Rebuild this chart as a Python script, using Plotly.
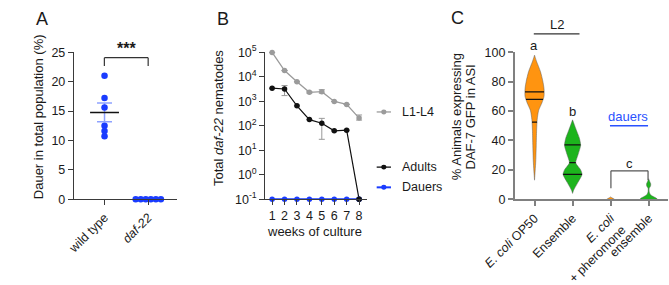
import numpy as np
import plotly.graph_objects as go

W, H = 669, 285
FONT = "Arial, 'Liberation Sans', Helvetica, sans-serif"

# ---------------- Panel A data ----------------
a_groups = ["wild type", "<i>daf-22</i>"]
a_wild_type = [21.0, 17.2, 15.6, 12.5, 11.6, 10.7]
a_daf22 = [0, 0, 0, 0, 0, 0]
a_yticks = [0, 5, 10, 15, 20, 25]

# ---------------- Panel B data ----------------
b_weeks = [1, 2, 3, 4, 5, 6, 7, 8]
b_l1l4 = [98000, 17800, 6200, 2300, 2450, 980, 740, 205]
b_l1l4_err_up = [0, 0, 0, 150, 500, 0, 0, 70]
b_l1l4_err_dn = [0, 0, 0, 150, 310, 0, 0, 35]
b_adults = [3400, 3150, 650, 178, 126, 62, 66, 0]
b_adults_err_up = [0, 1215, 0, 0, 74, 0, 0, 0]
b_adults_err_dn = [0, 1450, 0, 0, 98, 0, 0, 0]
b_dauers = [0, 0, 0, 0, 0, 0, 0, 0]
b_ytick_exp = [-1, 0, 1, 2, 3, 4, 5]

# ---------------- Panel C data ----------------
c_labels = ["<i>E. coli</i> OP50", "Ensemble", "<i>E. coli</i><br>+ pheromone", "ensemble"]
c_colors = ["#FF9410", "#1DB41D", "#FF9410", "#1DB41D"]
# violin outline: value levels (top -> bottom) and relative half-width
c_levels = [
    [98, 94, 86.7, 80.4, 75.2, 70, 65.6, 60.4, 54.2, 46.9, 36.5, 26, 13],
    [54, 47, 41.5, 36.7, 30.4, 24.8, 20, 16.9, 11.7, 6, 4],
    [1.6, 0.8, 0],
    [14, 12, 10.5, 9, 7.5, 5.5, 3.5, 2, 0.8, 0],
]
c_widths = [
    [0, 0.2, 0.63, 0.87, 1.0, 1.0, 0.78, 0.43, 0.28, 0.22, 0.18, 0.13, 0],
    [0, 0.4, 0.72, 0.85, 0.58, 0.33, 0.85, 1.0, 0.58, 0.1, 0],
    [0, 0.2, 0.4],
    [0, 0.12, 0.22, 0.2, 0.06, 0.05, 0.15, 0.45, 0.8, 0.9],
]
c_quartiles = [[52.5, 68, 73], [17, 25, 37], [], []]
c_yticks = [0, 20, 40, 60, 80, 100]


def px(x):
    return x / W


def py(y):
    return 1 - y / H


fig = go.Figure()

# ---------------- Panel A traces ----------------
mean_wt = float(np.mean(a_wild_type))
sem_wt = float(np.std(a_wild_type, ddof=1) / np.sqrt(len(a_wild_type)))
A_UNIT = 46.0  # px per category
DOT_SP = 5.3 / A_UNIT


def swarm(vals, pos):
    xs = []
    vals = list(vals)
    for i, v in enumerate(vals):
        dup = [j for j, u in enumerate(vals) if u == v]
        k = dup.index(i)
        xs.append(pos + (k - (len(dup) - 1) / 2) * DOT_SP)
    return xs


fig.add_trace(go.Scatter(x=[0], y=[mean_wt], mode="markers", marker=dict(size=0.1, color="rgba(0,0,0,0)"),
                         error_y=dict(type="data", array=[sem_wt], color="#8EA2FF", thickness=1.5, width=7.5),
                         xaxis="x", yaxis="y", showlegend=False, hoverinfo="skip"))
fig.add_trace(go.Scatter(x=[-0.33, 0.33], y=[mean_wt, mean_wt], mode="lines",
                         line=dict(color="#111", width=1.5), xaxis="x", yaxis="y", showlegend=False))
fig.add_trace(go.Scatter(x=swarm(a_wild_type, 0) + swarm(a_daf22, 1), y=a_wild_type + a_daf22, mode="markers",
                         marker=dict(size=6.5, color="#1A3CFF"), cliponaxis=False,
                         xaxis="x", yaxis="y", showlegend=False))

# ---------------- Panel B traces ----------------
def floor(v):
    return [max(x, 0.1) for x in v]


fig.add_trace(go.Scatter(x=b_weeks, y=floor(b_l1l4), mode="lines+markers",
                         line=dict(color="#9B9B9B", width=1.3), marker=dict(size=5.5, color="#9B9B9B"),
                         error_y=dict(type="data", array=b_l1l4_err_up, arrayminus=b_l1l4_err_dn,
                                      color="#9B9B9B", thickness=1, width=3),
                         cliponaxis=False, xaxis="x2", yaxis="y2", showlegend=False))
fig.add_trace(go.Scatter(x=b_weeks, y=floor(b_adults), mode="lines+markers",
                         line=dict(color="#111", width=1.2), marker=dict(size=5.5, color="#111"),
                         error_y=dict(type="data", array=b_adults_err_up, arrayminus=b_adults_err_dn,
                                      color="#999", thickness=1, width=3),
                         cliponaxis=False, xaxis="x2", yaxis="y2", showlegend=False))
fig.add_trace(go.Scatter(x=b_weeks, y=floor(b_dauers), mode="lines+markers",
                         line=dict(color="#1A3CFF", width=2.2), marker=dict(size=5.5, color="#1A3CFF"),
                         cliponaxis=False, xaxis="x2", yaxis="y2", showlegend=False))
# re-draw last adult point above dauers line
fig.add_trace(go.Scatter(x=[b_weeks[-1]], y=floor([b_adults[-1]]), mode="markers",
                         marker=dict(size=5.5, color="#111"), cliponaxis=False,
                         xaxis="x2", yaxis="y2", showlegend=False))

# ---------------- Panel C traces ----------------
HW = 0.25
for i, (lv, wd, col) in enumerate(zip(c_levels, c_widths, c_colors)):
    lv = np.array(lv, float)
    wd = np.array(wd, float)
    xs = list(i + wd * HW) + list(i - wd[::-1] * HW) + [i + wd[0] * HW]
    ys = list(lv) + list(lv[::-1]) + [lv[0]]
    fig.add_trace(go.Scatter(x=xs, y=ys, mode="lines", fill="toself", fillcolor=col,
                             line=dict(color="rgba(90,90,90,0.8)", width=0.6, shape="spline", smoothing=0.6),
                             cliponaxis=False, xaxis="x3", yaxis="y3", showlegend=False))
    order = np.argsort(lv)
    for q in c_quartiles[i]:
        w = float(np.interp(q, lv[order], wd[order])) * HW
        fig.add_trace(go.Scatter(x=[i - w, i + w], y=[q, q], mode="lines",
                                 line=dict(color="#111", width=1.2),
                                 xaxis="x3", yaxis="y3", showlegend=False))

# ---------------- axes ----------------
ydom = [py(207), py(47)]
tickfont = dict(family=FONT, size=12.5, color="#1a1a1a")
dark = dict(showline=True, linecolor="#3a3a3a", linewidth=1.2, ticks="outside", ticklen=5,
            tickcolor="#3a3a3a", tickwidth=1.2, showgrid=False, zeroline=False, tickfont=tickfont)
grey = dict(showline=True, linecolor="#808080", linewidth=1.8, ticks="outside", ticklen=5,
            tickcolor="#808080", tickwidth=1.6, showgrid=False, zeroline=False, tickfont=tickfont)

fig.update_layout(
    xaxis=dict(domain=[px(44), px(152)], range=[-0.7, 1.65], tickvals=[0, 1], ticktext=a_groups,
               tickangle=-45, anchor="y", **dark),
    yaxis=dict(domain=ydom, range=[0, 25], tickvals=a_yticks, anchor="x", **dark),
    xaxis2=dict(domain=[px(245), px(352)], range=[0.45, 8.65], tickvals=b_weeks, anchor="y2", **dark),
    yaxis2=dict(domain=ydom, type="log", range=[-1, 5], tickvals=[10.0 ** e for e in b_ytick_exp],
                ticktext=["10<sup>%d</sup>" % e for e in b_ytick_exp], anchor="x2", **dark),
    xaxis3=dict(domain=[px(507), px(668)], range=[-0.52, 3.51], tickvals=[0, 1, 2, 3], ticktext=c_labels,
                tickangle=-45, anchor="y3", **grey),
    yaxis3=dict(domain=ydom, range=[0, 100], tickvals=c_yticks, anchor="x3", **grey),
)

# ---------------- annotations & shapes ----------------
ann = []
shapes = []


def text(x, y, t, size=13, color="#1a1a1a", xanchor="center", angle=0, bold=False):
    ann.append(dict(x=px(x), y=py(y), xref="paper", yref="paper", text=("<b>%s</b>" % t) if bold else t,
                    showarrow=False, xanchor=xanchor, yanchor="middle", textangle=angle,
                    font=dict(family=FONT, size=size, color=color)))


def line(x0, y0, x1, y1, color="#333", width=1.2):
    shapes.append(dict(type="line", xref="paper", yref="paper", x0=px(x0), y0=py(y0), x1=px(x1), y1=py(y1),
                       line=dict(color=color, width=width)))


def dot(x, y, color, r=2.7):
    shapes.append(dict(type="circle", xref="paper", yref="paper", x0=px(x - r), x1=px(x + r),
                       y0=py(y + r), y1=py(y - r), fillcolor=color, line=dict(width=0)))


# panel letters
text(2, 11, "A", size=18, xanchor="left")
text(192, 11, "B", size=18, xanchor="left")
text(438, 10, "C", size=18, xanchor="left")

# y titles
text(7, 117, "Dauer in total population (%)", angle=-90)
text(196, 119, "Total <i>daf-22</i> nematodes", angle=-90)
text(446, 117, "% Animals expressing", angle=-90)
text(461, 117, "DAF-7 GFP in ASI", angle=-90)
text(297, 242, "weeks of culture")

# panel A significance
line(76, 53, 122, 53)
line(76, 53, 76, 62)
line(122, 53, 122, 62)
text(99, 43, "***", size=16, bold=True)

# panel B legend
for yy, lab, col in [(112, "L1-L4", "#9B9B9B"), (172, "Adults", "#111"), (194, "Dauers", "#1A3CFF")]:
    line(362, yy, 377, yy, color=col, width=1.3 if col != "#1A3CFF" else 2)
    dot(369.5, yy, col)
    text(386, yy, lab, size=12.5, xanchor="left")

# panel C annotations
text(551, 17, "L2", size=13)
line(527, 27, 575, 27, color="#333", width=1.2)
text(527, 40, "a", size=13)
text(568, 112, "b", size=13)
text(626, 117, "dauers", size=13, color="#2A52FF")
line(607, 127, 647, 127, color="#2A52FF", width=1.3)
text(628, 168, "c", size=13)
line(608, 176, 647, 176, color="#555")
line(608, 176, 608, 195, color="#555")
line(647, 176, 647, 186, color="#555")

fig.update_layout(annotations=ann, shapes=shapes, width=W, height=H,
                  margin=dict(l=0, r=0, t=0, b=0), paper_bgcolor="white", plot_bgcolor="white",
                  font=dict(family=FONT, size=12.5, color="#1a1a1a"), showlegend=False)

fig.write_html("out.html")
